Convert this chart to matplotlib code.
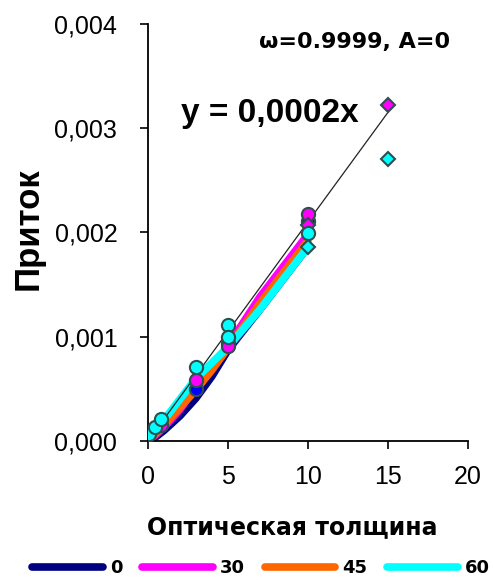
import matplotlib
matplotlib.use("Agg")
import matplotlib.pyplot as plt

plt.rcParams['font.family'] = ['Liberation Sans', 'DejaVu Sans']

# Model curves: inflow vs optical thickness for several angles
curve_x = [0, 0.5, 1, 2, 3, 4, 5, 7, 10]
curve_0 = [0, 0.00004, 0.0001, 0.00024, 0.00041, 0.00062, 0.00087, 0.00126, 0.00186]
curve_30 = [0, 0.00006, 0.00013, 0.0003, 0.00052, 0.0007, 0.00091, 0.00138, 0.00198]
curve_45 = [0, 0.00007, 0.00015, 0.00032, 0.00049, 0.00068, 0.00089, 0.00132, 0.00192]
curve_60 = [0, 0.0001, 0.0002, 0.0004, 0.0006, 0.00075, 0.0009, 0.00126, 0.00186]
curve_labels = ['0', '30', '45', '60']
curve_colors = ['#000080', '#FF00FF', '#FF6600', '#00FFFF']

# Computed points
blue_circ_x = [3, 5, 10]
blue_circ_y = [0.0005, 0.00094, 0.00211]
mag_circ_x = [0.8, 3, 5, 10]
mag_circ_y = [0.00015, 0.00058, 0.00091, 0.00218]
cyan_circ_x = [0.05, 0.45, 0.8, 3, 5, 5, 10]
cyan_circ_y = [0.00007, 0.00013, 0.00021, 0.00071, 0.00111, 0.001, 0.00199]
mag_diam_x = [10, 15]
mag_diam_y = [0.00207, 0.00322]
cyan_diam_x = [10, 15]
cyan_diam_y = [0.00186, 0.0027]

trend_slope = 0.00021
trend_x = [0, 15]

wide_bold = {'family': ['DejaVu Sans'], 'weight': 'bold'}

fig = plt.figure(figsize=(4.93, 5.81), dpi=100)
ax = fig.add_axes([0.300, 0.241, 0.649, 0.718])

for ys, c, lab in zip([curve_0, curve_30, curve_45, curve_60], curve_colors, curve_labels):
    ax.plot(curve_x, ys, color=c, lw=5.5, solid_capstyle='round', label=lab, zorder=2)

ax.plot(trend_x, [trend_slope * v for v in trend_x], color='#222222', lw=0.9, zorder=3)

edge = '#2F4F4F'
ax.plot(blue_circ_x, blue_circ_y, 'o', ms=9.5, mfc='#0000FF', mec=edge, mew=1.5, zorder=4)
ax.plot(mag_circ_x, mag_circ_y, 'o', ms=9.5, mfc='#FF00FF', mec=edge, mew=1.5, zorder=5)
ax.plot(mag_diam_x, mag_diam_y, 'D', ms=7, mfc='#FF00FF', mec=edge, mew=1.5, zorder=5)
ax.plot(cyan_circ_x, cyan_circ_y, 'o', ms=9.5, mfc='#00FFFF', mec=edge, mew=1.5, zorder=6)
ax.plot(cyan_diam_x, cyan_diam_y, 'D', ms=7, mfc='#00FFFF', mec=edge, mew=1.5, zorder=6)

ax.set_xlim(0, 20)
ax.set_ylim(0, 0.004)
ax.set_xticks([0, 5, 10, 15, 20])
ax.set_yticks([0, 0.001, 0.002, 0.003, 0.004])
ax.set_yticklabels([f"{v:.3f}".replace('.', ',') for v in ax.get_yticks()])
ax.tick_params(direction='out', length=6, width=1.2, labelsize=18, color='black')
ax.tick_params(axis='y', pad=16)
ax.tick_params(axis='x', pad=11)
for s in ['top', 'right']:
    ax.spines[s].set_visible(False)
for s in ['left', 'bottom']:
    ax.spines[s].set_linewidth(1.3)

fig.text(292 / 493, 1 - 527 / 581, 'Оптическая толщина', fontsize=17,
         ha='center', va='center', **wide_bold)
fig.text(28 / 493, 1 - 229 / 581, 'Приток', fontsize=25, fontweight='bold',
         rotation=90, ha='center', va='center')

eq = f"y = {trend_slope:.4f}x".replace('.', ',')
ax.text(7.6, 0.00314, eq, fontsize=24, fontweight='bold', ha='center', va='center')
ax.text(12.9, 0.00383, 'ω=0.9999, A=0', fontsize=16, ha='center', va='center', **wide_bold)

fig.legend(loc='center', bbox_to_anchor=(0.53, 1 - 568 / 581), ncol=4, frameon=False,
           prop={'size': 13, 'weight': 'bold', 'family': 'DejaVu Sans'},
           handlelength=3.9, handletextpad=0.4, columnspacing=1.1)

fig.savefig('out.png', dpi=100)
